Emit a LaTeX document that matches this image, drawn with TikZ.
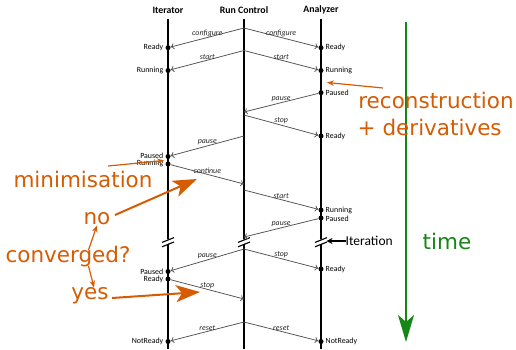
\documentclass[tikz,border=0pt]{standalone}
\usepackage{fontspec}
\setmainfont{Carlito}
\newfontfamily\djv{DejaVu Sans}
\usetikzlibrary{arrows.meta}
\definecolor{annot}{RGB}{214,92,4}
\definecolor{timegreen}{RGB}{22,135,22}
\definecolor{msggray}{RGB}{80,80,80}
\tikzset{
  lifeline/.style={line width=2pt,black},
  head/.style={font=\fontsize{9.8}{11}\selectfont\bfseries,inner sep=0pt},
  dot/.style={circle,fill=black,inner sep=0pt,minimum size=5pt},
  stl/.style={font=\fontsize{7.9}{9}\selectfont,inner sep=0pt},
  stleft/.style={stl,anchor=east},
  stright/.style={stl,anchor=west},
  msg/.style={msggray,line width=0.75pt,-{To[length=3.5pt,width=6pt]}},
  msglabel/.style={font=\fontsize{7.9}{9}\selectfont\itshape,text=black!85,inner sep=0.6pt,above},
  annotxt/.style={font=\djv\fontsize{21.5}{24}\selectfont,text=annot,inner sep=0pt},
  thinannot/.style={annot,line width=1.2pt,-{Stealth[length=7pt,width=5.5pt]}},
  bigannot/.style={annot,line width=2pt,-{Stealth[length=24pt,width=17pt,inset=6pt]}},
  breakmark/.style={line width=1.1pt,black},
}
\begin{document}
\begin{tikzpicture}[x=1pt,y=-1pt]
\useasboundingbox (0,0) rectangle (516,349);

% lifelines and their headers
\node[head] (hi) at (168,10) {Iterator};
\node[head] (hr) at (244,10) {Run Control};
\node[head] (ha) at (321,10) {Analyzer};
\coordinate (ti) at (168,19); \coordinate (bi) at (168,349);
\coordinate (tr) at (244,19); \coordinate (br) at (244,349);
\coordinate (ta) at (321,19); \coordinate (ba) at (321,349);
\draw[lifeline] (ti) -- (bi);
\draw[lifeline] (tr) -- (br);
\draw[lifeline] (ta) -- (ba);

% break marks on each lifeline
\foreach \x/\n in {168/i,244/r,321/a}{
  \fill[white] (\x-3,240.4) -- (\x+3,238) -- (\x+3,242.6) -- (\x-3,245) -- cycle;
  \draw[breakmark] (\x-6,242.4) -- (\x+6,237.6);
  \draw[breakmark] (\x-6,246.8) -- (\x+6,242);
}

% Run Control events
\coordinate (r1) at (244,28);
\coordinate (r2) at (244,50.5);
\coordinate (r3) at (244,112);
\coordinate (r4) at (244,115);
\coordinate (r5) at (244,136);
\coordinate (r6) at (244,184);
\coordinate (r7) at (244,190);
\coordinate (r8) at (244,237);
\coordinate (r9) at (244,249);
\coordinate (r10) at (244,299);
\coordinate (r11) at (244,322);

% Iterator states
\node[dot] (i1) at (168,47.7) {};
\node[dot] (i2) at (168,70.5) {};
\node[dot] (i3) at (168,156.5) {};
\node[dot] (i4) at (168,164) {};
\node[dot] (i5) at (168,271.5) {};
\node[dot] (i6) at (168,279) {};
\node[dot] (i7) at (168,341.5) {};
\node[stleft] at (163.5,47.7) {Ready};
\node[stleft] at (163.5,70.5) {Running};
\node[stleft] at (163.5,156) {Paused};
\node[stleft] at (163.5,163.5) {Running};
\node[stleft] at (163.5,271.5) {Paused};
\node[stleft] at (163.5,279) {Ready};
\node[stleft] at (163.5,341.5) {NotReady};

% Analyzer states
\node[dot] (a1) at (321,47.7) {};
\node[dot] (a2) at (321,70.5) {};
\node[dot] (a3) at (321,92.7) {};
\node[dot] (a4) at (321,136) {};
\node[dot] (a5) at (321,210) {};
\node[dot] (a6) at (321,218) {};
\node[dot] (a7) at (321,269) {};
\node[dot] (a8) at (321,341.5) {};
\node[stright] at (325.5,47.7) {Ready};
\node[stright] at (325.5,70.5) {Running};
\node[stright] at (325.5,92.7) {Paused};
\node[stright] at (325.5,136) {Ready};
\node[stright] at (325.5,210.5) {Running};
\node[stright] at (325.5,218.5) {Paused};
\node[stright] at (325.5,269) {Ready};
\node[stright] at (325.5,341.5) {NotReady};

% messages
\draw[msg] (r1) -- node[msglabel] {configure} (i1);
\draw[msg] (r1) -- node[msglabel] {configure} (a1);
\draw[msg] (r2) -- node[msglabel] {start} (i2);
\draw[msg] (r2) -- node[msglabel] {start} (a2);
\draw[msg] (a3) -- node[msglabel] {pause} (r3);
\draw[msg] (r4) -- node[msglabel] {stop} (a4);
\draw[msg] (r5) -- node[msglabel] {pause} (i3);
\draw[msg] (i4) -- node[msglabel] {continue} (r6);
\draw[msg] (r7) -- node[msglabel] {start} (a5);
\draw[msg] (a6) -- node[msglabel] {pause} (r8);
\draw[msg] (r9) -- node[msglabel] {pause} (i5);
\draw[msg] (r9) -- node[msglabel] {stop} (a7);
\draw[msg] (i6) -- node[msglabel] {stop} (r10);
\draw[msg] (r11) -- node[msglabel] {reset} (i7);
\draw[msg] (r11) -- node[msglabel] {reset} (a8);

% iteration marker
\node[font=\fontsize{13.5}{15}\selectfont,anchor=west,inner sep=0pt] (iter) at (345.5,241) {Iteration};
\coordinate (itertip) at (326.5,241);
\draw[line width=1.4pt,-{Stealth[length=6pt,width=6pt]}] (iter.west) -- (itertip);

% time axis
\node[font=\djv\fontsize{21.5}{24}\selectfont,text=timegreen,inner sep=0pt] (time) at (447,241) {time};
\coordinate (tt) at (406,22);
\coordinate (tb) at (406,342);
\draw[timegreen,line width=1.7pt,-{Stealth[length=27pt,width=16pt,inset=7pt]}] (tt) -- (tb);

% annotations
\node[annotxt] (reco) at (436,100) {reconstruction};
\node[annotxt,anchor=west] (deriv) at (357.5,127) {+ derivatives};
\node[annotxt] (mini) at (83,179) {minimisation};
\node[annotxt] (no) at (97,219) {no};
\node[annotxt] (conv) at (68,257) {converged?};
\node[annotxt] (yes) at (90,296) {yes};

\coordinate (recotail) at (383,88);
\coordinate (recotip) at (327,82.5);
\draw[thinannot] (recotail) -- (recotip);
\coordinate (minitail) at (108,166);
\coordinate (minitip) at (164,160.5);
\draw[thinannot] (minitail) -- (minitip);
\coordinate (nofrom) at (115,215);
\coordinate (notip) at (197,179);
\draw[bigannot] (nofrom) -- (notip);
\coordinate (yesfrom) at (112,298);
\coordinate (yestip) at (200,292);
\draw[bigannot] (yesfrom) -- (yestip);
\coordinate (cup) at (88.5,250);
\coordinate (cdown) at (88.5,266);
\draw[thinannot] (cup) -- (no.south);
\draw[thinannot] (cdown) -- ([xshift=4pt]yes.north);
\end{tikzpicture}
\end{document}
